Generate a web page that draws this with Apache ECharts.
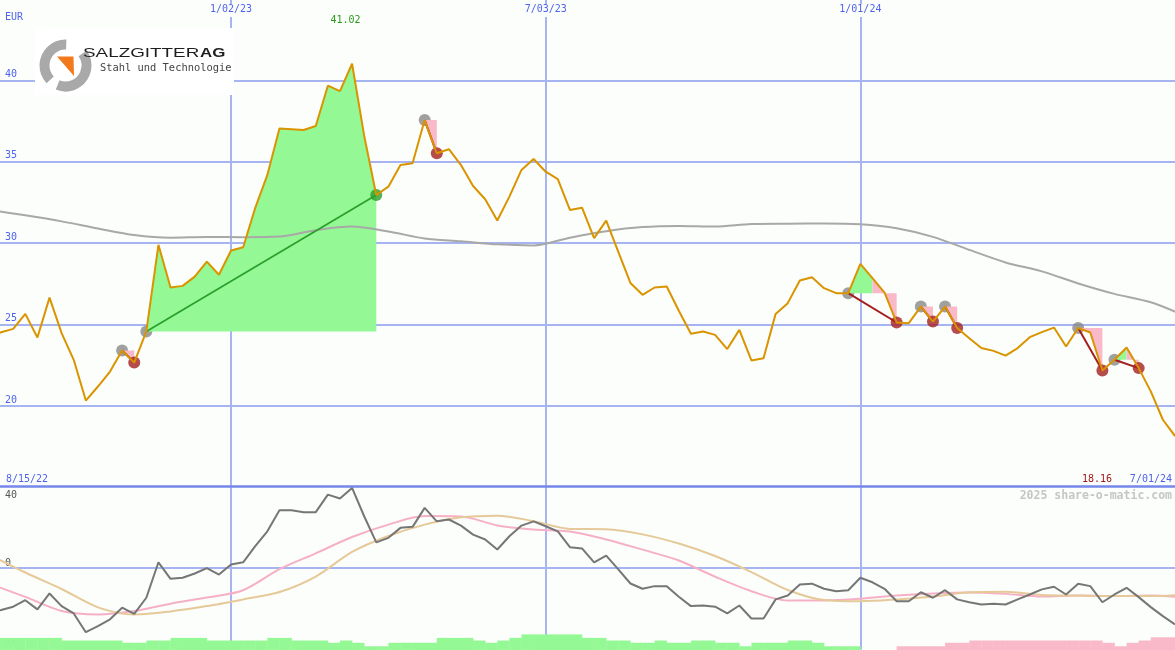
<!DOCTYPE html>
<html><head><meta charset="utf-8">
<script src="https://cdn.jsdelivr.net/npm/echarts@6/dist/echarts.min.js"></script>
<style>html,body{margin:0;padding:0;background:#fbfefb}#c{width:1175px;height:650px}</style>
</head><body><div id="c"></div>
<script>
// ---------------- data ----------------
const startDate = '2022-08-15';   // first weekly point
const refDate = '2023-01-02';     // first labelled tick
const currency = 'EUR';
const topTickLabels = ['1/02/23', '7/03/23', '1/01/24'];
const priceTickLabels = [20, 25, 30, 35, 40];
const oscTickLabels = [-40, 0, 40];
const firstDateLabel = '8/15/22';
const lastDateLabel = '7/01/24';
const copyright = '2025 share-o-matic.com';

// weekly closing prices (EUR)
const weekPrices = [
  24.30, 24.53, 24.74, 25.66, 24.21, 26.66, 24.48, 22.84, 20.34, 21.20,
  22.12, 23.41, 22.67, 24.58, 29.90, 27.28, 27.38, 27.95, 28.87, 28.06,
  29.55, 29.75, 32.17, 34.19, 37.04, 37.00, 36.95, 37.20, 39.67, 39.34,
  41.02, 36.60, 32.96, 33.47, 34.80, 34.91, 37.56, 35.52, 35.77, 34.80,
  33.51, 32.70, 31.39, 32.86, 34.50, 35.17, 34.39, 33.94, 32.04, 32.18,
  30.31, 31.39, 29.47, 27.56, 26.83, 27.28, 27.34, 25.85, 24.44, 24.58,
  24.37, 23.50, 24.68, 22.80, 22.94, 25.66, 26.32, 27.71, 27.91, 27.24,
  26.93, 26.93, 28.73, 27.85, 26.97, 25.13, 25.09, 26.11, 25.19, 26.11,
  24.79, 24.17, 23.56, 23.39, 23.10, 23.56, 24.23, 24.54, 24.82, 23.66,
  24.79, 24.52, 22.18, 22.84, 23.60, 22.33, 20.90, 19.16, 18.16
];
// long moving average, one value every 3 weeks
const maEvery3Weeks = [
  32.04, 31.71, 31.34, 30.90, 30.50, 30.34, 30.38, 30.37, 30.41, 30.80,
  31.02, 30.72, 30.29, 30.12, 29.93, 29.86, 30.34, 30.74, 30.99, 31.06,
  31.02, 31.18, 31.20, 31.21, 31.16, 30.92, 30.39, 29.59, 28.82, 28.27,
  27.53, 26.89, 26.37, 25.48
];
// oscillator (weekly)
const momentum = [
  -21.8, -20.6, -19.0, -15.8, -20.3, -12.5, -18.7, -22.3, -31.5, -28.5,
  -25.2, -19.5, -22.5, -14.6, 2.8, -5.3, -4.8, -2.7, -0.1, -3.2,
  1.7, 2.8, 10.7, 18.0, 28.3, 28.3, 27.4, 27.4, 36.0, 34.1,
  39.3, 25.4, 12.6, 14.8, 19.7, 20.2, 29.5, 22.9, 23.8, 20.8,
  16.4, 14.0, 9.1, 15.6, 20.8, 22.9, 20.5, 18.0, 10.2, 9.6,
  2.8, 6.1, -0.7, -7.6, -10.2, -8.9, -8.9, -14.1, -18.7, -18.4,
  -19.0, -22.3, -18.4, -24.8, -24.8, -15.4, -13.5, -8.1, -7.7, -10.2,
  -11.4, -10.9, -4.8, -7.0, -10.2, -16.3, -16.3, -11.9, -14.6, -10.9,
  -15.4, -16.8, -17.9, -17.5, -17.9, -15.4, -13.0, -10.5, -9.2, -13.0,
  -7.7, -8.9, -16.8, -13.0, -9.7, -14.3, -19.2, -23.6, -27.7
];
// oscillator averages, one value every 3 weeks
const momentumFastAvg = [
  -7.6, -14.2, -21.1, -22.8, -21.1, -17.5, -14.5, -10.9, -0.6, 7.2,
  15.2, 21.3, 25.5, 25.3, 20.9, 18.9, 17.9, 14.0, 9.0, 3.7,
  -4.3, -11.4, -15.9, -15.9, -15.1, -13.5, -12.5, -12.0, -12.7, -14.0,
  -13.5, -13.8, -13.5, -14.7
];
const momentumSlowAvg = [
  6.6, -2.2, -10.3, -19.3, -22.8, -21.3, -18.7, -15.4, -11.8, -4.2,
  7.9, 15.7, 21.3, 24.9, 25.7, 23.0, 19.2, 19.0, 16.5, 12.0,
  5.9, -2.0, -10.8, -15.7, -16.3, -15.4, -14.0, -11.9, -11.6, -13.2,
  -13.5, -13.8, -13.8, -13.0
];
// weekly signal histogram (positive = green, negative = pink)
const histogram = [
  5.7, 5.7, 5.7, 5.7, 5.7, 5.7, 4.4, 4.4, 4.4, 4.4,
  4.4, 3.3, 3.3, 4.4, 4.4, 5.7, 5.7, 5.7, 4.4, 4.4,
  4.4, 4.4, 4.4, 5.7, 5.7, 4.4, 4.4, 4.4, 3.3, 4.4,
  3.3, 1.6, 1.6, 3.3, 3.3, 3.3, 3.3, 5.7, 5.7, 5.7,
  4.4, 3.3, 4.4, 5.7, 7.4, 7.4, 7.4, 7.4, 7.4, 5.7,
  5.7, 4.4, 4.4, 3.3, 3.3, 4.4, 3.3, 3.3, 4.4, 4.4,
  3.3, 3.3, 1.6, 3.3, 3.3, 3.3, 4.4, 4.4, 3.3, 1.6,
  1.6, 1.6, 0, 0, 0, -1.6, -1.6, -1.6, -1.6, -3.3,
  -3.3, -4.4, -4.4, -4.4, -4.4, -4.4, -4.4, -4.4, -4.4, -4.4,
  -4.4, -4.4, -3.3, -1.6, -3.3, -4.4, -6.0, -6.0, -6.0
];
// trades: [entry week index, exit week index]
const trades = [[11, 12], [13, 32], [36, 37], [71, 75], [77, 78], [79, 80], [90, 92], [93, 95]];

// ---------------- helpers ----------------
const DAY = 86400000;
const T_START = Date.parse(startDate + 'T00:00:00Z');
const T_REF = Date.parse(refDate + 'T00:00:00Z');
function dayOfWeek(i) { return Math.round((T_START + i * 7 * DAY - T_REF) / DAY); }
const TICK = 182;          // half-year tick interval (days)
const X_MIN = -TICK;       // multiple of the interval
const X_MAX = 3 * TICK;    // last weekly point lies exactly on the right edge

const C = {
  bg: '#fbfefb', grid: '#a7b4f2', sep: '#7686ea', label: '#4f63ef',
  price: '#d99400', ma: '#a8a8a8', green: '#94f894', pink: '#f9b9c9',
  gainDot: '#2a9e2a', lossDot: '#a51f1f', entryDot: '#888888',
  mom: '#767676', fast: '#f6b0c6', slow: '#e6c998'
};
const MONO = '"DejaVu Sans Mono", monospace';

const pricePts = weekPrices.map((v, i) => [dayOfWeek(i), v]);
const maPts = maEvery3Weeks.map((v, k) => [dayOfWeek(3 * k), v]);
const momPts = momentum.map((v, i) => [dayOfWeek(i), v]);
const fastPts = momentumFastAvg.map((v, k) => [dayOfWeek(3 * k), v]);
const slowPts = momentumSlowAvg.map((v, k) => [dayOfWeek(3 * k), v]);
const histPts = histogram.map((v, i) => [dayOfWeek(i), v, dayOfWeek(i + 1)]);
const tradeItems = trades.map(([e, x]) => [dayOfWeek(e), weekPrices[e], e, x]);

const chart = echarts.init(document.getElementById('c'), null, { renderer: 'canvas' });

const gridLeft = -83.6;
const xAxisBase = {
  type: 'value', min: X_MIN, max: X_MAX, interval: TICK,
  axisTick: { show: false },
  splitLine: { show: true, showMinLine: false, showMaxLine: false, lineStyle: { color: C.grid, width: 2 } }
};
const yAxisLabelBase = { fontFamily: MONO, fontSize: 10, inside: true, margin: 5, align: 'left' };

chart.setOption({
  animation: false,
  backgroundColor: C.bg,
  grid: [
    { left: gridLeft, right: 0, top: -1.1, height: 488.6, containLabel: false, outerBoundsMode: 'none' },
    { left: gridLeft, right: 0, top: 486.5, height: 163, containLabel: false, outerBoundsMode: 'none' }
  ],
  xAxis: [
    Object.assign({}, xAxisBase, {
      gridIndex: 0, position: 'top',
      axisLine: { show: false, onZero: false },
      axisLabel: {
        inside: true, margin: 5, fontFamily: MONO, fontSize: 10, color: C.label,
        backgroundColor: C.bg, padding: [1, 2, 2, 2],
        formatter: v => (v >= 0 && topTickLabels[Math.round(v / TICK)]) || ''
      }
    }),
    Object.assign({}, xAxisBase, {
      gridIndex: 1, position: 'top',
      axisLine: { show: true, onZero: false, lineStyle: { color: C.sep, width: 2.5 } },
      axisLabel: { show: false }
    })
  ],
  yAxis: [
    {
      type: 'value', gridIndex: 0, position: 'left', min: 15, max: 45, interval: 5, offset: gridLeft,
      axisLine: { show: false }, axisTick: { show: false },
      splitLine: { show: true, showMinLine: false, showMaxLine: false, lineStyle: { color: C.grid, width: 2 } },
      axisLabel: Object.assign({}, yAxisLabelBase, {
        color: C.label, verticalAlign: 'bottom', padding: [0, 0, 1, 0],
        formatter: v => priceTickLabels.includes(v) ? String(v) : ''
      })
    },
    {
      type: 'value', gridIndex: 1, position: 'left', min: -40, max: 40, interval: 40, offset: gridLeft,
      axisLine: { show: false }, axisTick: { show: false },
      splitLine: { show: true, showMinLine: false, showMaxLine: false, lineStyle: { color: C.grid, width: 2 } },
      axisLabel: Object.assign({}, yAxisLabelBase, {
        color: '#555555', verticalAlign: 'bottom',
        formatter: v => (oscTickLabels.includes(v) && v < oscTickLabels[2]) ? String(v) : ''
      })
    },
    {
      type: 'value', gridIndex: 1, position: 'left', min: -40, max: 40, interval: 40, offset: gridLeft,
      axisLine: { show: false }, axisTick: { show: false }, splitLine: { show: false },
      axisLabel: Object.assign({}, yAxisLabelBase, {
        color: '#555555', verticalAlign: 'top', padding: [4, 0, 0, 0],
        formatter: v => v === oscTickLabels[2] ? String(v) : ''
      })
    }
  ],
  series: [
    // entry markers (beneath the trade areas)
    {
      type: 'scatter', xAxisIndex: 0, yAxisIndex: 0, z: 1,
      symbol: 'circle', symbolSize: 12, itemStyle: { color: C.entryDot },
      data: trades.map(([e]) => [dayOfWeek(e), weekPrices[e]])
    },
    // trade profit / loss areas (one polygon per run of same-coloured weeks)
    {
      type: 'custom', xAxisIndex: 0, yAxisIndex: 0, z: 2,
      encode: { x: 0, y: 1 },
      data: tradeItems,
      renderItem: function (params, api) {
        const e = api.value(2), x = api.value(3);
        const E = weekPrices[e];
        let maxGain = 0;
        const segGood = [];
        for (let i = e; i < x; i++) {
          const g = weekPrices[i + 1] - E;
          maxGain = Math.max(maxGain, g);
          segGood.push(g > 0 && g >= 0.45 * maxGain);
        }
        const children = [];
        let s = e;
        while (s < x) {
          let t = s;
          while (t < x && segGood[t - e] === segGood[s - e]) t++;
          const pts = [api.coord([dayOfWeek(s), E])];
          for (let i = s; i <= t; i++) pts.push(api.coord([dayOfWeek(i), weekPrices[i]]));
          pts.push(api.coord([dayOfWeek(t), E]));
          children.push({
            type: 'polygon', shape: { points: pts },
            style: { fill: segGood[s - e] ? C.green : C.pink }
          });
          s = t;
        }
        return { type: 'group', children };
      }
    },
    // long moving average
    {
      type: 'line', xAxisIndex: 0, yAxisIndex: 0, z: 3,
      data: maPts, showSymbol: false, smooth: 0.3,
      lineStyle: { color: C.ma, width: 2 }
    },
    // trade connecting lines
    {
      type: 'custom', xAxisIndex: 0, yAxisIndex: 0, z: 4,
      encode: { x: 0, y: 1 },
      data: tradeItems,
      renderItem: function (params, api) {
        const e = api.value(2), x = api.value(3);
        const p1 = api.coord([dayOfWeek(e), weekPrices[e]]);
        const p2 = api.coord([dayOfWeek(x), weekPrices[x]]);
        const gain = weekPrices[x] > weekPrices[e];
        return {
          type: 'line', shape: { x1: p1[0], y1: p1[1], x2: p2[0], y2: p2[1] },
          style: { stroke: gain ? C.gainDot : C.lossDot, lineWidth: gain ? 1.6 : 2 }
        };
      }
    },
    // exit markers
    {
      type: 'scatter', xAxisIndex: 0, yAxisIndex: 0, z: 5,
      symbol: 'circle', symbolSize: 12,
      data: trades.map(([e, x]) => ({
        value: [dayOfWeek(x), weekPrices[x]],
        itemStyle: { color: weekPrices[x] > weekPrices[e] ? C.gainDot : C.lossDot }
      }))
    },
    // price
    {
      type: 'line', xAxisIndex: 0, yAxisIndex: 0, z: 6,
      data: pricePts, showSymbol: false,
      lineStyle: { color: C.price, width: 2 },
      markPoint: {
        symbol: 'circle', symbolSize: 0, silent: true,
        data: [
          { type: 'max', label: { show: true, position: 'inside', offset: [-6.5, -43], color: '#2a9a1a', fontFamily: MONO, fontSize: 10, formatter: p => p.value.toFixed(2) } },
          { type: 'min', label: { show: true, position: 'inside', offset: [-78, 43], color: '#a01818', fontFamily: MONO, fontSize: 10, formatter: p => p.value.toFixed(2) } }
        ]
      }
    },
    // histogram
    {
      type: 'custom', xAxisIndex: 1, yAxisIndex: 1, z: 1,
      encode: { x: 0, y: 1 },
      data: histPts,
      renderItem: function (params, api) {
        const v = api.value(1);
        if (!v) return null;
        const p0 = api.coord([api.value(0), -40]);
        const p1 = api.coord([api.value(2), -40 + Math.abs(v)]);
        return {
          type: 'rect',
          shape: { x: p0[0], y: p1[1], width: p1[0] - p0[0] + 0.3, height: p0[1] - p1[1] + 2 },
          style: { fill: v > 0 ? C.green : C.pink }
        };
      }
    },
    {
      type: 'line', xAxisIndex: 1, yAxisIndex: 1, z: 2,
      data: fastPts, showSymbol: false, smooth: 0.3,
      lineStyle: { color: C.fast, width: 2 }
    },
    {
      type: 'line', xAxisIndex: 1, yAxisIndex: 1, z: 3,
      data: slowPts, showSymbol: false, smooth: 0.3,
      lineStyle: { color: C.slow, width: 2 }
    },
    {
      type: 'line', xAxisIndex: 1, yAxisIndex: 1, z: 4,
      data: momPts, showSymbol: false,
      lineStyle: { color: C.mom, width: 2 }
    }
  ],
  graphic: [
    { type: 'text', z: 100, style: { text: currency, x: 5, y: 17, fill: C.label, font: '10px ' + MONO, textAlign: 'left', textVerticalAlign: 'middle', align: 'left', verticalAlign: 'middle' } },
    { type: 'text', z: 100, style: { text: firstDateLabel, x: 6, y: 479, fill: C.label, font: '10px ' + MONO, textAlign: 'left', textVerticalAlign: 'middle', align: 'left', verticalAlign: 'middle' } },
    { type: 'text', z: 100, style: { text: lastDateLabel, x: 1172, y: 479, fill: C.label, font: '10px ' + MONO, textAlign: 'right', textVerticalAlign: 'middle', align: 'right', verticalAlign: 'middle' } },
    { type: 'text', z: 100, style: { text: copyright, x: 1172, y: 496, fill: '#c6c6c6', font: 'bold 11.5px ' + MONO, textAlign: 'right', textVerticalAlign: 'middle', align: 'right', verticalAlign: 'middle' } },
    // logo
    { type: 'rect', z: 100, shape: { x: 35, y: 28, width: 199, height: 67 }, style: { fill: '#ffffff' } },
    { type: 'sector', z: 101, shape: { cx: 65.5, cy: 65.5, r: 26, r0: 16, startAngle: 137 * Math.PI / 180, endAngle: 272 * Math.PI / 180, clockwise: true }, style: { fill: '#a9a9a9' } },
    { type: 'sector', z: 101, shape: { cx: 65.5, cy: 65.5, r: 26, r0: 16, startAngle: -35 * Math.PI / 180, endAngle: 112 * Math.PI / 180, clockwise: true }, style: { fill: '#a9a9a9' } },
    { type: 'polygon', z: 102, shape: { points: [[57, 56.5], [73.5, 56.5], [74, 76]] }, style: { fill: '#f27a1c' } },
    { type: 'text', z: 102, x: 83, y: 53.7, scaleX: 1.45, style: { text: 'SALZGITTER', x: 0, y: 0, fill: '#1e1e1e', font: '13px "Liberation Sans"', textAlign: 'left', textVerticalAlign: 'middle', align: 'left', verticalAlign: 'middle' } },
    { type: 'text', z: 102, x: 200, y: 53.7, scaleX: 1.3, style: { text: 'AG', x: 0, y: 0, fill: '#1e1e1e', font: 'bold 13px "Liberation Sans"', textAlign: 'left', textVerticalAlign: 'middle', align: 'left', verticalAlign: 'middle' } },
    { type: 'text', z: 102, x: 100, y: 68.5, scaleX: 1.04, style: { text: 'Stahl und Technologie', x: 0, y: 0, fill: '#444444', font: '10px ' + MONO, textAlign: 'left', textVerticalAlign: 'middle', align: 'left', verticalAlign: 'middle' } }
  ]
});
</script>
</body></html>
